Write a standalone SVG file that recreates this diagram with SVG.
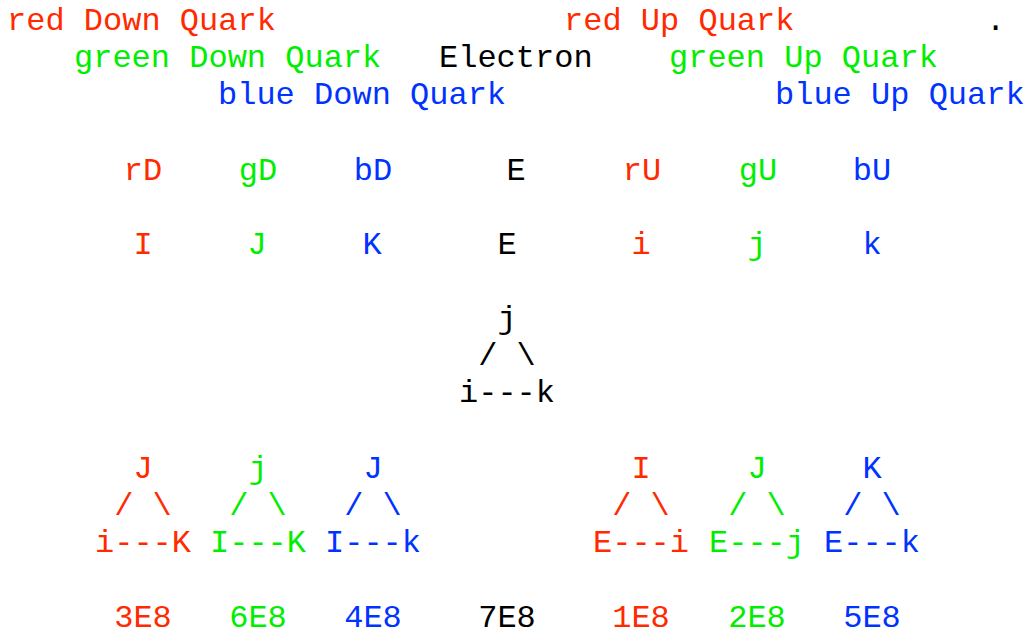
<svg xmlns="http://www.w3.org/2000/svg" width="1030" height="632" viewBox="0 0 1030 632">
<style>
text{font-family:"Liberation Mono","Courier New",monospace;font-size:32px;}
.r{fill:#ff2a00}.g{fill:#00ee00}.b{fill:#0033ff}.k{fill:#000}
.m{text-anchor:middle}
</style>
<rect width="1030" height="632" fill="#fff"/>
<g id="legend">
<text class="r" x="7" y="30">red Down Quark</text>
<text class="r" x="564" y="30">red Up Quark</text>
<text class="k" x="986" y="30">.</text>
<text class="g" x="74" y="67">green Down Quark</text>
<text class="k" x="439" y="67">Electron</text>
<text class="g" x="669" y="67">green Up Quark</text>
<text class="b" x="218" y="104">blue Down Quark</text>
<text class="b" x="775" y="104">blue Up Quark</text>
</g>
<g id="labels">
<text class="r m" x="143" y="180">rD</text>
<text class="g m" x="258" y="180">gD</text>
<text class="b m" x="373" y="180">bD</text>
<text class="k m" x="516" y="180">E</text>
<text class="r m" x="642" y="180">rU</text>
<text class="g m" x="758" y="180">gU</text>
<text class="b m" x="872" y="180">bU</text>
</g>
<g id="symbols">
<text class="r m" x="143" y="254">I</text>
<text class="g m" x="257" y="254">J</text>
<text class="b m" x="372" y="254">K</text>
<text class="k m" x="507" y="254">E</text>
<text class="r m" x="641" y="254">i</text>
<text class="g m" x="757" y="254">j</text>
<text class="b m" x="872" y="254">k</text>
</g>
<g id="center-triangle" class="k">
<text class="k m" x="507" y="328">j</text>
<text class="k m" x="507" y="365">/ \</text>
<text class="k m" x="507" y="402">i---k</text>
</g>
<g id="tri-rD">
<text class="r m" x="143" y="478">J</text>
<text class="r m" x="143" y="515">/ \</text>
<text class="r m" x="143" y="552">i---K</text>
</g>
<g id="tri-gD">
<text class="g m" x="258" y="478">j</text>
<text class="g m" x="258" y="515">/ \</text>
<text class="g m" x="258" y="552">I---K</text>
</g>
<g id="tri-bD">
<text class="b m" x="373" y="478">J</text>
<text class="b m" x="373" y="515">/ \</text>
<text class="b m" x="373" y="552">I---k</text>
</g>
<g id="tri-rU">
<text class="r m" x="641" y="478">I</text>
<text class="r m" x="641" y="515">/ \</text>
<text class="r m" x="641" y="552">E---i</text>
</g>
<g id="tri-gU">
<text class="g m" x="757" y="478">J</text>
<text class="g m" x="757" y="515">/ \</text>
<text class="g m" x="757" y="552">E---j</text>
</g>
<g id="tri-bU">
<text class="b m" x="872" y="478">K</text>
<text class="b m" x="872" y="515">/ \</text>
<text class="b m" x="872" y="552">E---k</text>
</g>
<g id="values">
<text class="r m" x="143" y="627">3E8</text>
<text class="g m" x="258" y="627">6E8</text>
<text class="b m" x="373" y="627">4E8</text>
<text class="k m" x="507" y="627">7E8</text>
<text class="r m" x="641" y="627">1E8</text>
<text class="g m" x="757" y="627">2E8</text>
<text class="b m" x="872" y="627">5E8</text>
</g>
<g id="connectors"></g>
</svg>
